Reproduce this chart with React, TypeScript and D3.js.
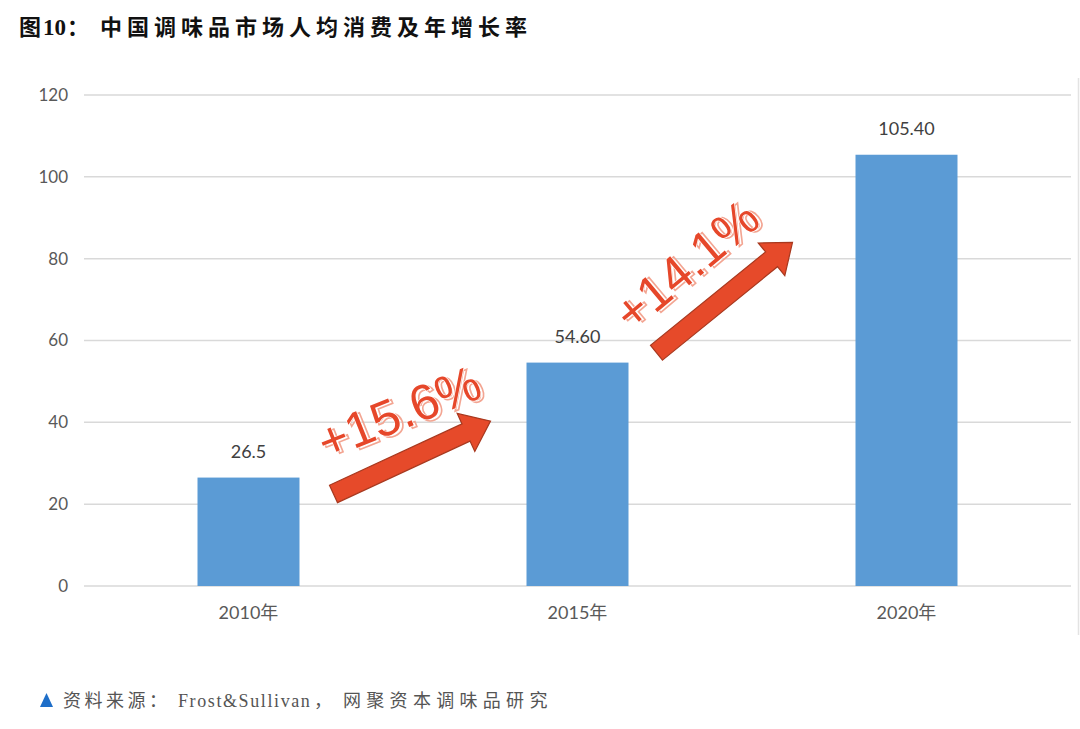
import React from "react";
import * as d3 from "d3";

const categories = ["2010年", "2015年", "2020年"];
const values = [26.5, 54.6, 105.4];
const valueLabels = ["26.5", "54.60", "105.40"];
const yTicks = [0, 20, 40, 60, 80, 100, 120];
const growthLabels = ["+15.6%", "+14.1%"];

const W = 1080;
const H = 729;

function arrowPath(x1: number, y1: number, x2: number, y2: number, shaft: number, headW: number, headL: number) {
  const dx = x2 - x1, dy = y2 - y1;
  const len = Math.hypot(dx, dy);
  const ux = dx / len, uy = dy / len;
  const px = -uy, py = ux;
  const bx = x2 - ux * headL, by = y2 - uy * headL;
  const pts = [
    [x1 + px * shaft / 2, y1 + py * shaft / 2],
    [bx + px * shaft / 2, by + py * shaft / 2],
    [bx + px * headW / 2, by + py * headW / 2],
    [x2, y2],
    [bx - px * headW / 2, by - py * headW / 2],
    [bx - px * shaft / 2, by - py * shaft / 2],
    [x1 - px * shaft / 2, y1 - py * shaft / 2],
  ];
  return "M" + pts.map((p) => p[0].toFixed(1) + "," + p[1].toFixed(1)).join("L") + "Z";
}

export default function App() {
  const x = d3.scaleBand<string>().domain(categories).range([84, 1071]).paddingInner(0.69).paddingOuter(0.345);
  const y = d3.scaleLinear().domain([0, 120]).range([586, 95]);
  const labelFont = "Lato, 'Noto Sans CJK SC', sans-serif";
  const cx = (i: number) => (x(categories[i]) as number) + x.bandwidth() / 2;

  // annotation anchors relative to bars
  const arrows = [
    { x1: cx(0) + 85, y1: y(22.5), x2: cx(1) - 87, y2: y(40.3), tx: cx(0) + 157, ty: y(38.5), rot: -22 },
    { x1: cx(1) + 79, y1: y(57), x2: cx(2) - 114, y2: y(84), tx: cx(1) + 120, ty: y(75.2), rot: -40 },
  ];

  const serif = "'Liberation Serif', 'Noto Sans CJK SC', serif";

  return (
    <svg width={W} height={H} style={{ display: "block", position: "absolute", left: 0, top: 0, background: "#fff" }}>
      <rect x={0} y={0} width={W} height={H} fill="#fff" />
      <text y={35} fontFamily={serif} fontWeight={700} fontSize={22} fill="#111">
        <tspan x={19}>图</tspan>
        <tspan x={43} fontSize={23}>10</tspan>
        <tspan x={67}>：</tspan>
        <tspan x={100} letterSpacing={5}>中国调味品市场人均消费及年增长率</tspan>
      </text>
      <line x1={1078.5} x2={1078.5} y1={78} y2={635} stroke="#E3E3E3" strokeWidth={1.5} />
      {yTicks.map((t) => (
        <g key={t}>
          <line x1={84} x2={1071} y1={y(t)} y2={y(t)} stroke="#D9D9D9" strokeWidth={1.5} />
          <text x={68} y={y(t)} dy="0.35em" textAnchor="end" fontFamily={labelFont} fontSize={17} fill="#595959">
            {t}
          </text>
        </g>
      ))}
      {categories.map((c, i) => (
        <g key={c}>
          <rect x={x(c)} y={y(values[i])} width={x.bandwidth()} height={y(0) - y(values[i])} fill="#5B9BD5" />
          <text x={cx(i)} y={y(values[i]) - 20} textAnchor="middle" fontFamily={labelFont} fontSize={18} fill="#404040">
            {valueLabels[i]}
          </text>
          <text x={cx(i)} y={619} textAnchor="middle" fontFamily={labelFont} fontSize={18} fill="#595959">
            {c}
          </text>
        </g>
      ))}
      {arrows.map((a, i) => (
        <g key={i}>
          <path d={arrowPath(a.x1, a.y1, a.x2, a.y2, 19, 42, 27)} fill="#E64A2A" stroke="#A8381E" strokeWidth={1.2} />
          <g transform={`translate(${a.tx},${a.ty}) rotate(${a.rot})`}>
            <text x={2.5} y={2.5} textAnchor="middle" fontFamily="'Liberation Sans', Arial, sans-serif" fontSize={50} fill="none" stroke="#F3A592" strokeWidth={1.6}>
              {growthLabels[i]}
            </text>
            <text x={0} y={0} textAnchor="middle" fontFamily="'Liberation Sans', Arial, sans-serif" fontSize={50} fill="#E6472A" stroke="#fff" strokeWidth={1.2} style={{ paintOrder: "stroke" }}>
              {growthLabels[i]}
            </text>
          </g>
        </g>
      ))}
      <path d="M40,707 L46.5,693 L53,707 Z" fill="#1E6EC8" />
      <text y={707} fontFamily={serif} fontSize={18} fill="#555">
        <tspan x={63} letterSpacing={3.5}>资料来源：</tspan>
        <tspan x={178} letterSpacing={1.6}>Frost&amp;Sullivan</tspan>
        <tspan x={314}>，</tspan>
        <tspan x={343} letterSpacing={5.3}>网聚资本调味品研究</tspan>
      </text>
    </svg>
  );
}
